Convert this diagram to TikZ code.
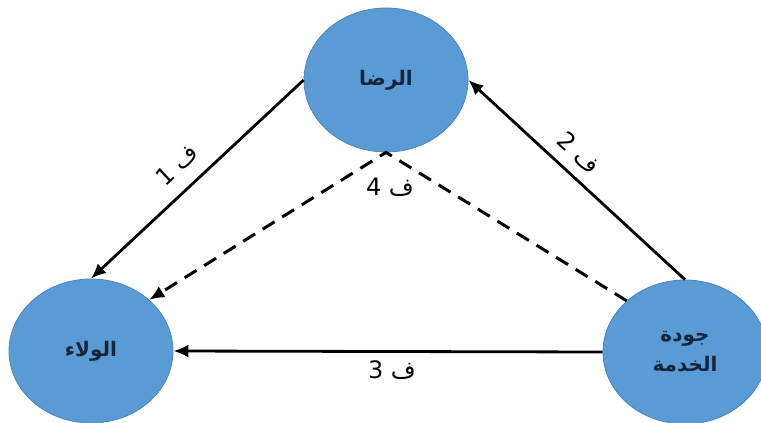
\documentclass[tikz,border=0pt]{standalone}
\usepackage{fontspec}
\newfontfamily\arabicfont[Script=Arabic]{DejaVu Sans}
\TeXXeTstate=1
\usetikzlibrary{positioning,arrows.meta,shapes.geometric}
\definecolor{circfill}{HTML}{5B9BD5}
\definecolor{circline}{HTML}{4A86BE}
\definecolor{circtext}{HTML}{16243C}
\tikzset{
  flowarrow/.style={-{Latex[length=15pt, width=13pt]}, line width=2.8pt},
  dasharrow/.style={-{Latex[length=15pt, width=13pt]}, line width=3pt, dash pattern=on 14pt off 9pt},
  concept/.style={ellipse, draw=circline, line width=0.8pt, fill=circfill, minimum width=164pt, minimum height=144pt, inner sep=0pt, align=center, text=circtext, font=\arabicfont\bfseries\fontsize{20}{30}\selectfont},
  relabel/.style={font=\arabicfont\fontsize{24}{28}\selectfont, inner sep=1pt}
}
\begin{document}
\begin{tikzpicture}[x=1pt, y=-1pt, >=Latex]
  \useasboundingbox (0,0) rectangle (761,423);
  \node[concept] (rida) at (386,80) {\beginR الرضا\endR};
  \node[concept] (wala) at (91,351) {\beginR الولاء\endR};
  \node[concept] (khidma) at (685,352) {\beginR جودة\endR\\ \beginR الخدمة\endR};
  \draw[flowarrow] (rida.west) -- (wala.north);
  \draw[flowarrow] (khidma.north) -- (rida.east);
  \draw[flowarrow] (khidma.west) -- (wala.east);
  \draw[dasharrow] (khidma.north west) -- (rida.south) -- (wala.north east);
  \node[relabel, rotate=43] (f1) at (177,165) {\beginR ف 1\endR};
  \node[relabel, rotate=-43] (f2) at (579,153) {\beginR ف 2\endR};
  \node[relabel] (f4) at (390,187) {\beginR ف 4\endR};
  \node[relabel] (f3) at (392,370) {\beginR ف 3\endR};
\end{tikzpicture}
\end{document}
